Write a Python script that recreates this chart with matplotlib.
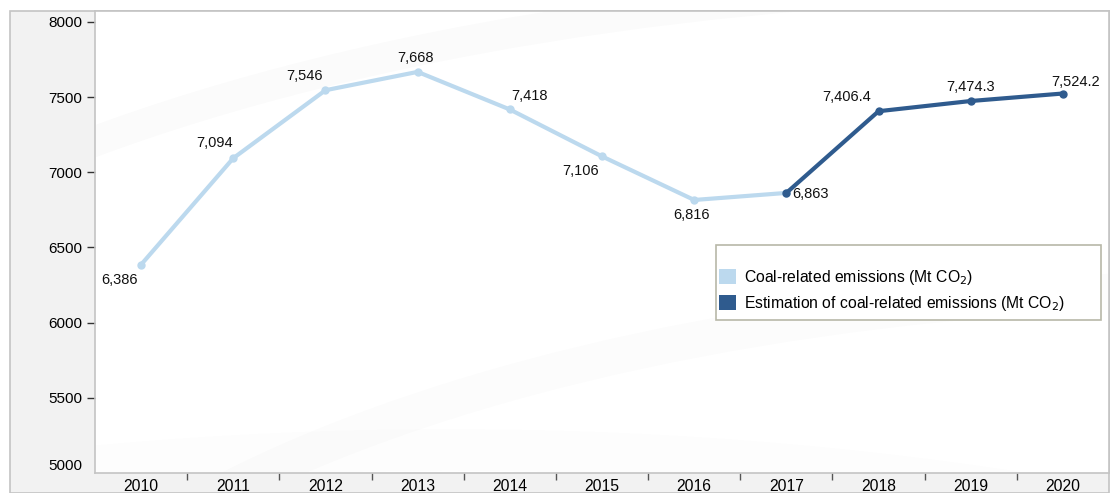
import matplotlib.pyplot as plt
import numpy as np
from matplotlib.patches import Rectangle, Ellipse, Patch

years = ["2010", "2011", "2012", "2013", "2014", "2015", "2016", "2017", "2018", "2019", "2020"]
emissions = [6386, 7094, 7546, 7668, 7418, 7106, 6816, 6863]
estimate_years = ["2017", "2018", "2019", "2020"]
estimates = [6863, 7406.4, 7474.3, 7524.2]

emission_labels = ["6,386", "7,094", "7,546", "7,668", "7,418", "7,106", "6,816", "6,863"]
estimate_labels = ["7,406.4", "7,474.3", "7,524.2"]

light = "#bcd9ee"
dark = "#2f5b8e"

plt.rcParams["font.family"] = ["Liberation Sans", "DejaVu Sans"]

W, H = 1117, 493
fig = plt.figure(figsize=(W / 100, H / 100), dpi=100)


def fig_px(x, y):
    # pixel position measured from the top-left corner -> figure fraction
    return x / W, 1 - y / H


# grey outer frame behind everything
fig.patches.append(Rectangle((10 / W, 0), (1109 - 10) / W, (H - 11) / H,
                             transform=fig.transFigure, facecolor="#f2f2f2",
                             edgecolor="#c4c4c4", lw=1.2, zorder=-5))

ax = fig.add_axes([95 / W, (H - 473) / H, (1109 - 95) / W, (473 - 11) / H])
ax.set_zorder(1)
ax.set_facecolor("white")

# faint swooshes in the plot background
for (cx, cy, w, h, a, lw) in [(1.0, -0.2, 2.92, 2.52, 0.014, 22),
                              (1.15, -0.75, 2.6, 2.3, 0.011, 26),
                              (0.35, -1.6, 3.4, 3.3, 0.008, 30)]:
    ax.add_patch(Ellipse((cx, cy), w, h, transform=ax.transAxes, fill=False,
                         edgecolor="black", alpha=a, lw=lw, zorder=0))

x_all = np.arange(len(years))
x_em = x_all[:len(emissions)]
x_est = np.array([years.index(y) for y in estimate_years])

ax.plot(x_em, emissions, color=light, lw=3, marker="o", ms=5, zorder=3,
        solid_capstyle="round")
ax.plot(x_est, estimates, color=dark, lw=3, marker="o", ms=5, zorder=4,
        solid_capstyle="round")

em_offsets = [(-22, -15), (-19, 15), (-21, 14), (-2, 14), (20, 13), (-21, -15), (-3, -15)]
for xi, v, lab, off in zip(x_em, emissions, emission_labels, em_offsets):
    ax.annotate(lab, (xi, v), xytext=off, textcoords="offset pixels",
                ha="center", va="center", fontsize=10.5, color="#111111", zorder=5)
ax.annotate(emission_labels[-1], (x_em[-1], emissions[-1]), xytext=(6, -1),
            textcoords="offset pixels", ha="left", va="center", fontsize=10.5,
            color="#111111", zorder=5)

est_offsets = [(-32, 14), (0, 14), (13, 12)]
for xi, v, lab, off in zip(x_est[1:], estimates[1:], estimate_labels, est_offsets):
    ax.annotate(lab, (xi, v), xytext=off, textcoords="offset pixels",
                ha="center", va="center", fontsize=10.5, color="#111111", zorder=5)

ax.set_xlim(-0.5, len(years) - 0.5)
ax.set_ylim(5000, 8073)
ax.set_yticks(range(5000, 8001, 500))
ax.tick_params(axis="y", length=6, width=1, color="#333333", labelsize=11, pad=3)
t0 = ax.yaxis.get_major_ticks()[0]
t0.tick1line.set_visible(False)
t0.label1.set_va("bottom")

ax.set_xticks(x_all)
ax.set_xticklabels(years)
ax.set_xticks(x_all[:-1] + 0.5, minor=True)
ax.tick_params(axis="x", which="major", length=0, labelsize=11.3, pad=4)
ax.tick_params(axis="x", which="minor", length=5, width=1, color="#555555")

for s in ax.spines.values():
    s.set_color("#c4c4c4")
    s.set_linewidth(1.2)

# legend box drawn separately so it keeps its wide, tall frame
x0, y0 = fig_px(716, 320)
x1, y1 = fig_px(1101, 245)
fig.patches.append(Rectangle((x0, y0), x1 - x0, y1 - y0, transform=fig.transFigure,
                             facecolor="white", edgecolor="#b8b8a8", lw=1.2, zorder=2))

handles = [Patch(facecolor=light, edgecolor="none", label="Coal-related emissions (Mt CO$_2$)"),
           Patch(facecolor=dark, edgecolor="none", label="Estimation of coal-related emissions (Mt CO$_2$)")]
leg = fig.legend(handles=handles, loc="upper left", bbox_to_anchor=fig_px(719, 268),
                 frameon=False, fontsize=11.3, handlelength=1.08, handleheight=1.08,
                 handletextpad=0.5, borderpad=0, borderaxespad=0, labelspacing=0.45)
leg.set_zorder(3)

fig.savefig("out.png", dpi=100)
